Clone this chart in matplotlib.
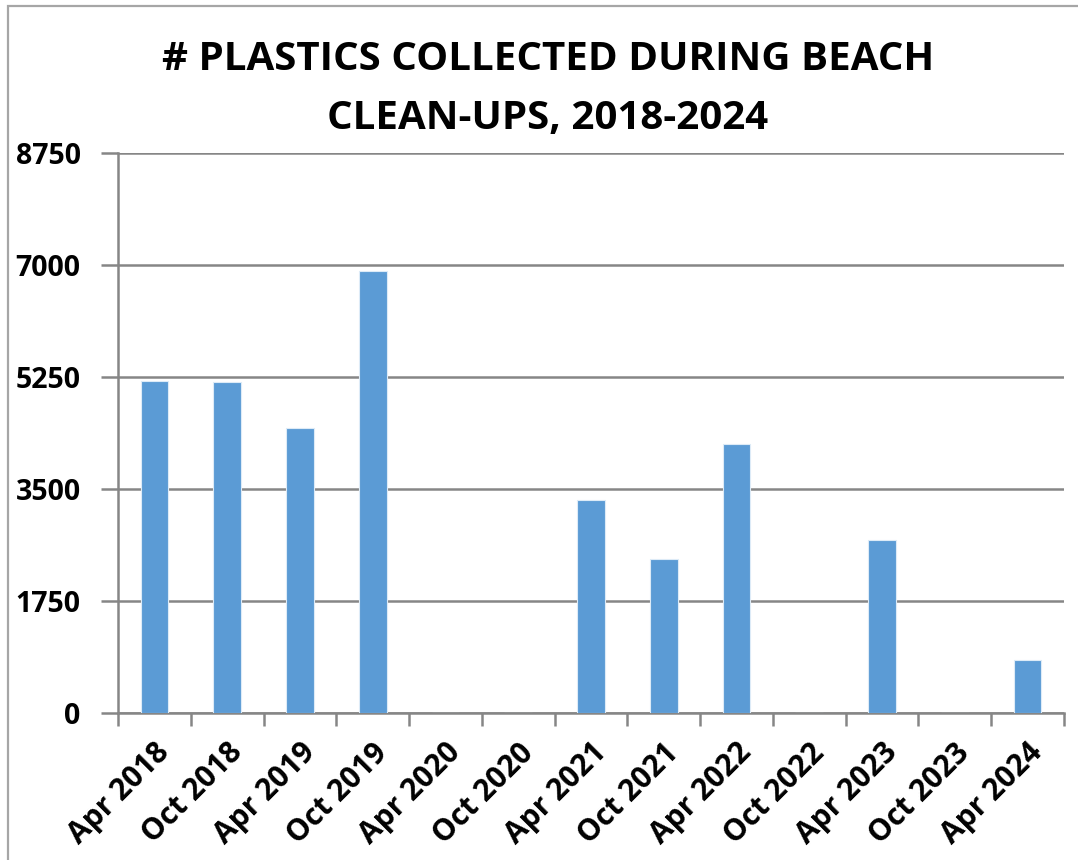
import matplotlib.pyplot as plt
from matplotlib.patches import Rectangle
import numpy as np

# data
maanden = ['Apr 2018', 'Oct 2018', 'Apr 2019', 'Oct 2019', 'Apr 2020', 'Oct 2020', 'Apr 2021',
           'Oct 2021', 'Apr 2022', 'Oct 2022', 'Apr 2023', 'Oct 2023', 'Apr 2024']
plastics = [5180, 5170, 4460, 6910, 0, 0, 3320, 2400, 4200, 0, 2700, 0, 820]
y_ticks = [0, 1750, 3500, 5250, 7000, 8750]

grijs = '#868686'

plt.rcParams['font.family'] = ['Open Sans', 'DejaVu Sans']

fig = plt.figure(figsize=(10.78, 8.6), dpi=100, facecolor='white')
ax = fig.add_axes([118 / 1078, 1 - 712.6 / 860, (1064 - 118) / 1078, (712.6 - 153.3) / 860])

x = np.arange(len(maanden))
ax.bar(x, plastics, width=0.38, color='#5B9BD5', edgecolor='#DDEBF7', linewidth=0.8, zorder=3)

ax.set_xlim(-0.5, len(maanden) - 0.5)
ax.set_ylim(0, 8750)
ax.set_yticks(y_ticks)
ax.set_yticklabels([str(t) for t in y_ticks], fontsize=20.5, fontweight='bold')
ax.grid(axis='y', color=grijs, linewidth=1.8, zorder=0)

# ticks on the category borders, labels in the middle
ax.set_xticks(np.arange(len(maanden) + 1) - 0.5)
ax.set_xticklabels([])
ax.set_xticks(x, minor=True)
ax.set_xticklabels(maanden, minor=True, rotation=45, ha='right', rotation_mode='anchor',
                   fontsize=21.5, fontweight='bold')
ax.tick_params(axis='x', which='major', length=9, width=1.8, color=grijs, direction='out')
ax.tick_params(axis='x', which='minor', length=0, pad=18)
ax.tick_params(axis='y', length=12, width=1.8, color=grijs, pad=15)

for kant in ['top', 'right']:
    ax.spines[kant].set_visible(False)
for kant in ['left', 'bottom']:
    ax.spines[kant].set_color(grijs)
    ax.spines[kant].set_linewidth(1.8)

fig.text(548 / 1078, 1 - 89 / 860, '# PLASTICS COLLECTED DURING BEACH\nCLEAN-UPS, 2018-2024',
         ha='center', va='center', fontsize=29, fontweight='bold', linespacing=1.68)

# grijze rand om de grafiek
fig.patches.append(Rectangle((8 / 1078, -0.1), 1.2, 1 - 6 / 860 + 0.1, transform=fig.transFigure,
                             fill=False, edgecolor='#A6A6A6', linewidth=1.6))

plt.savefig('out.png', dpi=100)
plt.close()
